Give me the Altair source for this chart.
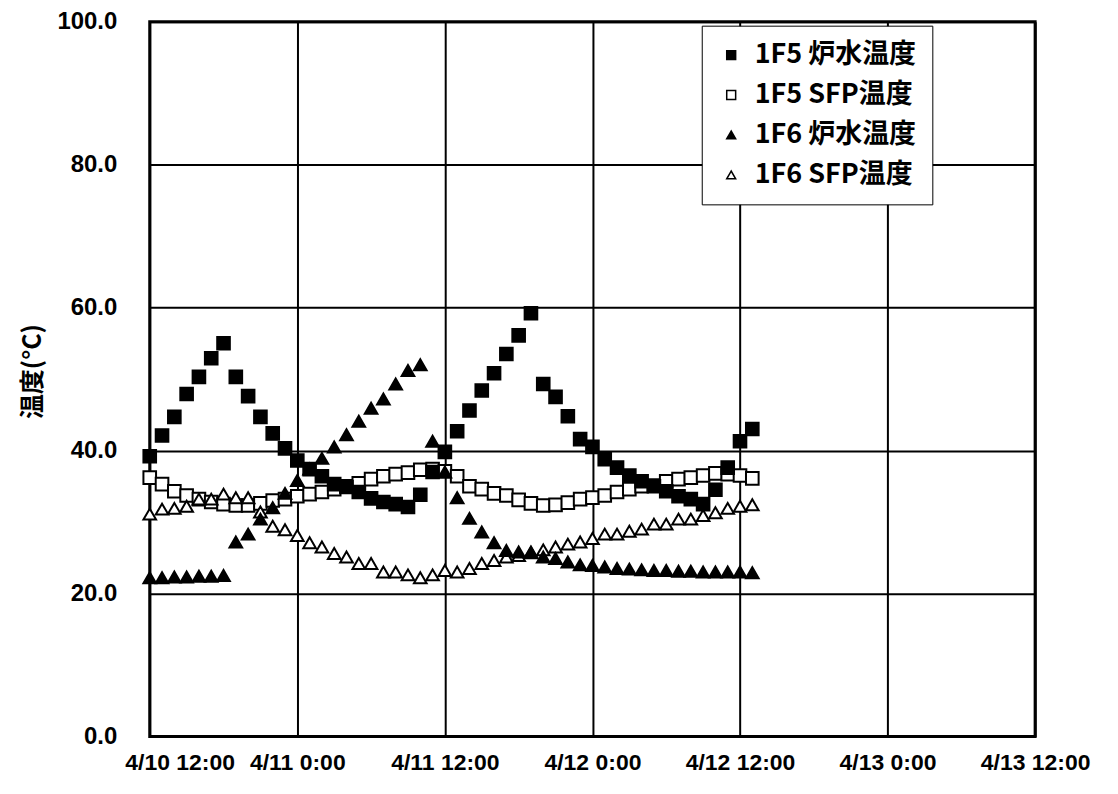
import json
import altair as alt
import pandas as pd

# ---- data ----
series_names = ["1F5 炉水温度", "1F5 SFP温度", "1F6 炉水温度", "1F6 SFP温度"]
series_shapes = ["square", "square", "triangle-up", "triangle-up"]
series_fills = ["black", "white", "black", "white"]
series_strokes = ["black", "black", "black", "black"]

# hourly samples, hour 0 = 4/10 12:00
hours = list(range(50))

f5_reactor = [39.2, 42.1, 44.7, 47.9, 50.3, 52.9, 55.0, 50.3, 47.6, 44.7, 42.4, 40.3,
              38.6, 37.4, 36.4, 35.3, 34.9, 34.2, 33.3, 32.8, 32.5, 32.1, 33.8, 37.0,
              39.8, 42.7, 45.6, 48.4, 50.8, 53.5, 56.1, 59.2, 49.3, 47.5, 44.8, 41.6,
              40.5, 38.8, 37.6, 36.5, 35.7, 35.0, 34.3, 33.6, 33.2, 32.5, 34.5, 37.6, 41.3, 43.0]
f5_sfp = [36.2, 35.3, 34.3, 33.7, 33.2, 32.8, 32.5, 32.3, 32.3, 32.6, 33.0, 33.2,
          33.6, 33.9, 34.2, 34.6, 35.0, 35.4, 36.0, 36.4, 36.7, 36.9, 37.3, 37.4,
          37.1, 36.4, 35.0, 34.6, 34.0, 33.7, 33.1, 32.6, 32.3, 32.4, 32.7, 33.2,
          33.4, 33.7, 34.2, 34.6, 35.0, 35.1, 35.7, 36.0, 36.2, 36.5, 36.8, 36.7, 36.5, 36.1]
f6_reactor = [22.2, 22.2, 22.3, 22.3, 22.4, 22.4, 22.5, 27.2, 28.3, 30.4, 32.0, 34.0,
              35.8, 37.4, 38.9, 40.5, 42.2, 44.1, 45.9, 47.2, 49.3, 51.2, 52.0, 41.3,
              37.0, 33.4, 30.5, 28.6, 27.1, 26.0, 25.8, 25.8, 25.1, 24.9, 24.4, 24.0,
              23.9, 23.7, 23.5, 23.4, 23.3, 23.2, 23.2, 23.1, 23.1, 23.0, 23.0, 23.0, 23.0, 22.9]
f6_sfp = [31.1, 31.8, 31.9, 32.2, 33.2, 33.2, 33.9, 33.4, 33.4, 31.4, 29.4, 28.9,
          28.1, 27.1, 26.5, 25.6, 25.1, 24.2, 24.2, 23.0, 23.0, 22.6, 22.2, 22.6,
          23.2, 23.0, 23.5, 24.2, 24.6, 25.1, 25.3, 25.7, 26.1, 26.5, 26.9, 27.2,
          27.7, 28.3, 28.3, 28.7, 29.0, 29.7, 29.7, 30.4, 30.4, 30.9, 31.3, 31.9, 32.2, 32.4]

x_tick_hours = [0, 12, 24, 36, 48, 60, 72]
x_tick_labels = ["4/10 12:00", "4/11 0:00", "4/11 12:00", "4/12 0:00",
                 "4/12 12:00", "4/13 0:00", "4/13 12:00"]
y_ticks = [0, 20, 40, 60, 80, 100]
y_title = "温度(°C)"

# ---- table ----
values_by_series = {
    series_names[0]: f5_reactor,
    series_names[1]: f5_sfp,
    series_names[2]: f6_reactor,
    series_names[3]: f6_sfp,
}
draw_order = [series_names[1], series_names[3], series_names[2], series_names[0]]
rows = []
for k, name in enumerate(draw_order):
    for h, v in zip(hours, values_by_series[name]):
        rows.append({"series": name, "hour": h, "temp": v, "z": k})
df = pd.DataFrame(rows)

label_expr = json.dumps(x_tick_labels, ensure_ascii=False) + "[round(datum.value / 12)]"

legend = alt.Legend(
    title=None,
    orient="none",
    legendX=553,
    legendY=4,
    fillColor="white",
    strokeColor="black",
    padding=16,
    rowPadding=12,
    labelFont="Noto Sans CJK JP",
    labelFontSize=27,
    labelFontWeight="bold",
    labelColor="black",
    labelLimit=400,
    labelOffset=10,
    symbolSize=80,
    symbolStrokeColor="black",
    symbolStrokeWidth=1.5,
)

axis_common = dict(
    grid=True,
    gridColor="black",
    gridWidth=2,
    gridOpacity=1,
    domain=False,
    ticks=False,
    labelFont="Liberation Sans",
    labelFontWeight="bold",
    labelColor="black",
)

chart = alt.Chart(df).mark_point(
    size=160, strokeWidth=2, opacity=1, fillOpacity=1
).encode(
    x=alt.X(
        "hour:Q",
        scale=alt.Scale(domain=[0, 72], nice=False, zero=False),
        axis=alt.Axis(
            values=x_tick_hours,
            labelExpr=label_expr,
            title=None,
            labelFontSize=23,
            labelPadding=15,
            labelFlush=False,
            labelOverlap=False,
            labelOffset={"condition": {"test": "datum.value == 0", "value": 30}, "value": 0},
            **axis_common,
        ),
    ),
    y=alt.Y(
        "temp:Q",
        scale=alt.Scale(domain=[0, 100], nice=False),
        axis=alt.Axis(
            values=y_ticks,
            format=".1f",
            title=y_title,
            titleFont="Noto Sans CJK JP",
            titleFontSize=25,
            titleFontWeight="bold",
            titleColor="black",
            titleX=-117,
            titleY=350,
            titleAlign="center",
            titleBaseline="middle",
            labelFontSize=24,
            labelPadding=33,
            **axis_common,
        ),
    ),
    shape=alt.Shape(
        "series:N",
        scale=alt.Scale(domain=series_names, range=series_shapes),
        legend=legend,
    ),
    fill=alt.Fill(
        "series:N",
        scale=alt.Scale(domain=series_names, range=series_fills),
        legend=legend,
    ),
    stroke=alt.Stroke(
        "series:N",
        scale=alt.Scale(domain=series_names, range=series_strokes),
        legend=legend,
    ),
    order=alt.Order("z:Q"),
).properties(
    width=887,
    height=716,
    autosize=alt.AutoSizeParams(type="none"),
    padding={"left": 142, "top": 13, "right": 75, "bottom": 48},
    background="white",
).configure_view(
    stroke="black",
    strokeWidth=3,
)

chart.save("out.html", embed_options={"renderer": "svg", "actions": False})
